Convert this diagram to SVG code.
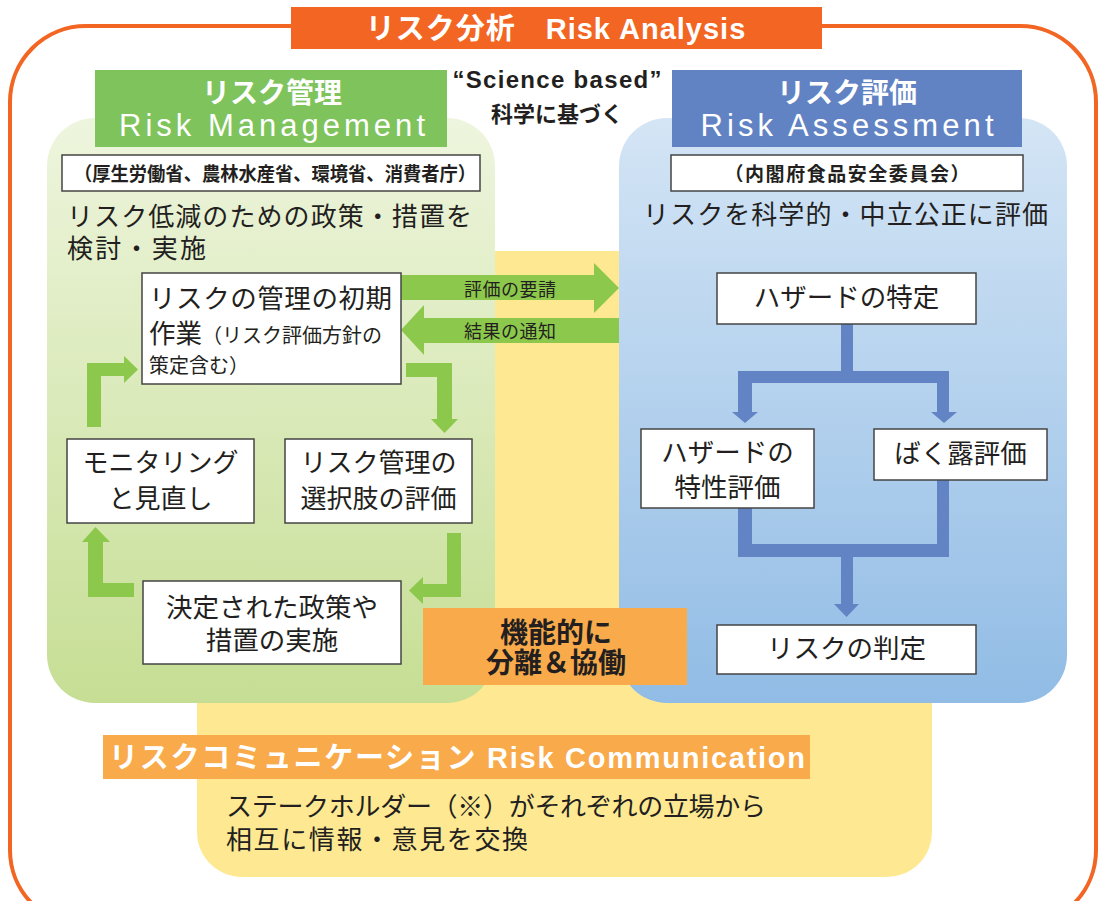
<svg xmlns="http://www.w3.org/2000/svg" width="1100" height="901" viewBox="0 0 1100 901">
<defs>
<linearGradient id="gG" x1="0" y1="0" x2="0" y2="1"><stop offset="0" stop-color="#eef5de"/><stop offset="1" stop-color="#c6de94"/></linearGradient>
<linearGradient id="gB" x1="0" y1="0" x2="0" y2="1"><stop offset="0" stop-color="#d4e5f5"/><stop offset="1" stop-color="#91bce5"/></linearGradient>
<style>
.jp{font-family:"Noto Sans CJK JP","Noto Sans",sans-serif;fill:#231f20}
.hd{font-family:"Liberation Sans","Noto Sans CJK JP",sans-serif;fill:#fff}
.box{fill:#fff;stroke:#444;stroke-width:1.5}
.ga{fill:#8cc84b}
.ba{fill:#6384c4}
.c{text-anchor:middle}
</style>
</defs>
<rect width="1100" height="901" fill="#fff"/>
<rect x="10" y="26" width="1086" height="900" rx="76" fill="#fff" stroke="#f26522" stroke-width="4"/>
<g id="title">
<rect x="291" y="7" width="531" height="42" fill="#f26522"/>
<text class="hd c" x="556" y="39" font-size="29" font-weight="bold" letter-spacing="1">リスク分析　Risk Analysis</text>
</g>
<g id="communication">
<path d="M197 251 H932 V832 A45 45 0 0 1 887 877 H242 A45 45 0 0 1 197 832 Z" fill="#fee992"/>
<rect x="103" y="735" width="707" height="44" fill="#f9aa4b"/>
<text class="hd" x="109" y="768" font-size="29" font-weight="bold" textLength="696" lengthAdjust="spacing">リスクコミュニケーション Risk Communication</text>
<text class="jp" x="226" y="816" font-size="26" textLength="540" lengthAdjust="spacing">ステークホルダー（※）がそれぞれの立場から</text>
<text class="jp" x="226" y="849" font-size="26" textLength="302" lengthAdjust="spacing">相互に情報・意見を交換</text>
</g>
<g id="management-panel">
<rect x="47" y="118" width="448" height="585" rx="48" fill="url(#gG)"/>
<rect x="95" y="70" width="352" height="77" fill="#7ec35c"/>
<text class="hd c" x="272" y="103" font-size="28" font-weight="bold">リスク管理</text>
<text class="hd c" x="272" y="136" font-size="31" textLength="306" lengthAdjust="spacing">Risk Management</text>
<rect x="62" y="155" width="418" height="36" class="box"/>
<text class="jp" x="74" y="181" font-size="19" font-weight="bold" textLength="402" lengthAdjust="spacingAndGlyphs">（厚生労働省、農林水産省、環境省、消費者庁）</text>
<text class="jp" x="67" y="226" font-size="26" textLength="405" lengthAdjust="spacing">リスク低減のための政策・措置を</text>
<text class="jp" x="67" y="258" font-size="26" textLength="139" lengthAdjust="spacing">検討・実施</text>
</g>
<g id="assessment-panel">
<rect x="619" y="118" width="448" height="585" rx="48" fill="url(#gB)"/>
<rect x="672" y="70" width="350" height="77" fill="#6183c3"/>
<text class="hd c" x="847" y="103" font-size="28" font-weight="bold">リスク評価</text>
<text class="hd c" x="847" y="136" font-size="31" textLength="293" lengthAdjust="spacing">Risk Assessment</text>
<rect x="671" y="155" width="352" height="36" class="box"/>
<text class="jp c" x="847" y="181" font-size="19" font-weight="bold" textLength="245" lengthAdjust="spacing">（内閣府食品安全委員会）</text>
<text class="jp" x="643" y="224" font-size="26" textLength="405" lengthAdjust="spacing">リスクを科学的・中立公正に評価</text>
</g>
<g id="science">
<text x="557" y="88" class="c" font-family="Liberation Sans,sans-serif" font-size="24" font-weight="bold" fill="#231f20" textLength="209" lengthAdjust="spacing">“Science based”</text>
<text class="jp c" x="557" y="122" font-size="22" font-weight="bold">科学に基づく</text>
</g>
<g id="connectors">
<polygon class="ga" points="401,275 594,275 594,263 619,288 594,313 594,300 401,300"/>
<polygon class="ga" points="619,318 424,318 424,305 401,330 424,355 424,343 619,343"/>
<polygon class="ga" points="406,363 452,363 452,419 458,419 444.5,433 431,419 437,419 437,377 406,377"/>
<polygon class="ga" points="447,533 461,533 461,597 423,597 423,604 409,590.5 423,577 423,584 447,584"/>
<polygon class="ga" points="134,583 134,597 88,597 88,542 82,542 95.5,527 110,542 103,542 103,583"/>
<polygon class="ga" points="87,427 87,363 124,363 124,356 138,369.5 124,383 124,376 101,376 101,427"/>
<path class="ba" d="M841 324 H853 V371 H949 V412 H957 L944 423 L931 412 H937 V383 H752 V412 H758 L745 423 L732 412 H738 V371 H841 Z"/>
<path class="ba" d="M738 508 H752 V544 H937 V480 H949 V557 H853 V604 H859 L846.5 617 L834 604 H841 V557 H738 Z"/>
</g>
<g id="label-request">
<text class="jp" x="464" y="296" font-size="18" textLength="92" lengthAdjust="spacing">評価の要請</text>
</g>
<g id="label-result">
<text class="jp" x="464" y="338" font-size="18" textLength="92" lengthAdjust="spacing">結果の通知</text>
</g>
<g id="initial">
<rect x="142" y="273" width="259" height="111" class="box"/>
<text class="jp" x="149" y="308" font-size="26.5" textLength="243" lengthAdjust="spacing">リスクの管理の初期</text>
<text class="jp" x="149" y="343" font-size="26.5">作業<tspan font-size="20">（リスク評価方針の</tspan></text>
<text class="jp" x="149" y="373" font-size="20">策定含む）</text>
</g>
<g id="monitoring">
<rect x="67" y="439" width="187" height="84" class="box"/>
<text class="jp c" x="160.5" y="472" font-size="26">モニタリング</text>
<text class="jp c" x="160.5" y="508" font-size="26">と見直し</text>
</g>
<g id="options">
<rect x="285" y="439" width="187" height="84" class="box"/>
<text class="jp c" x="378.5" y="472" font-size="26">リスク管理の</text>
<text class="jp c" x="378.5" y="508" font-size="26">選択肢の評価</text>
</g>
<g id="implementation">
<rect x="143" y="581" width="258" height="83" class="box"/>
<text class="jp c" x="272" y="617" font-size="26.5">決定された政策や</text>
<text class="jp c" x="272" y="650" font-size="26.5">措置の実施</text>
</g>
<g id="hazard-id">
<rect x="717" y="273" width="259" height="51" class="box"/>
<text class="jp c" x="846.5" y="307" font-size="26.5">ハザードの特定</text>
</g>
<g id="hazard-char">
<rect x="641" y="429" width="173" height="79" class="box"/>
<text class="jp c" x="727.5" y="462" font-size="26.5">ハザードの</text>
<text class="jp c" x="727.5" y="497" font-size="26.5">特性評価</text>
</g>
<g id="exposure">
<rect x="874" y="429" width="173" height="51" class="box"/>
<text class="jp c" x="960.5" y="463" font-size="26.5">ばく露評価</text>
</g>
<g id="risk-char">
<rect x="717" y="625" width="259" height="49" class="box"/>
<text class="jp c" x="846.5" y="658" font-size="26.5">リスクの判定</text>
</g>
<g id="separation">
<rect x="423" y="608" width="264" height="77" fill="#f9aa4b"/>
<text class="jp c" x="556" y="643" font-size="28" font-weight="bold">機能的に</text>
<text class="jp c" x="556" y="673" font-size="28" font-weight="bold">分離＆協働</text>
</g>
</svg>
